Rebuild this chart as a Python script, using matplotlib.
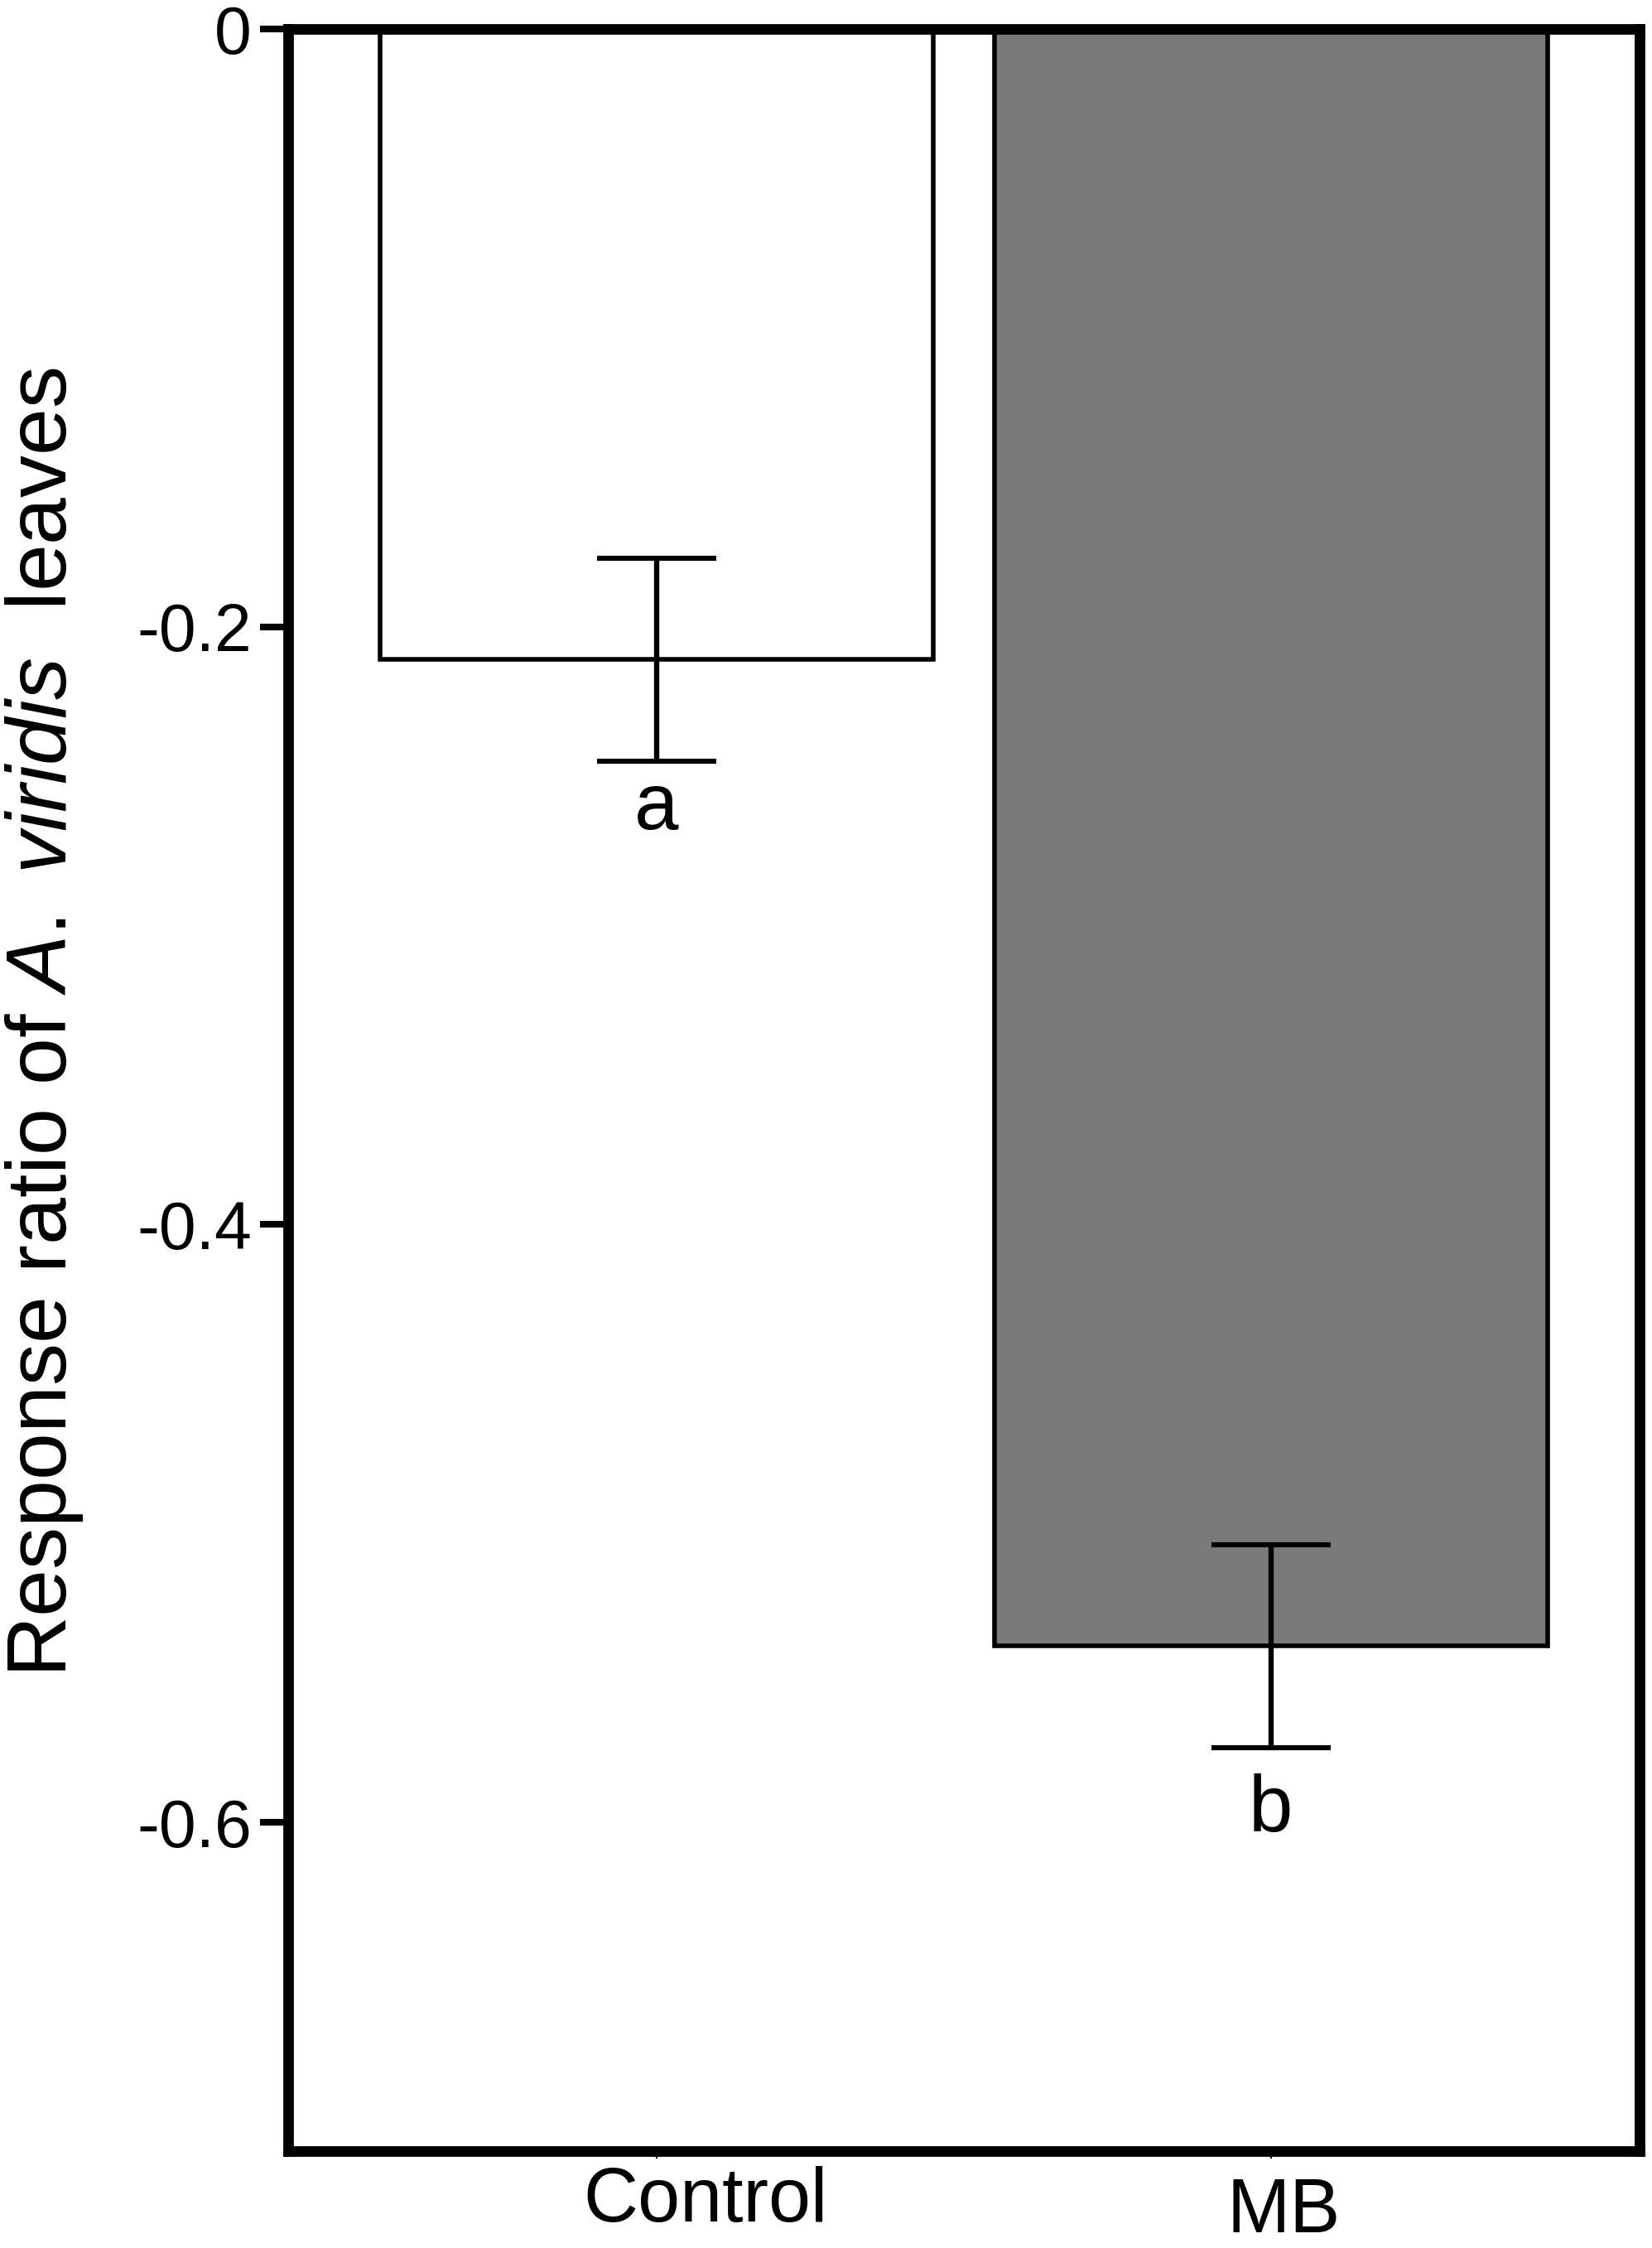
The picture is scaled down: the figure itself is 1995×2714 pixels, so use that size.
import matplotlib
matplotlib.use("Agg")
import matplotlib.pyplot as plt

# Data
categories = ["Control", "MB"]
values = [-0.211, -0.541]
errors = [0.034, 0.034]
letters = ["a", "b"]
bar_colors = ["#ffffff", "#7a7a7a"]
yticks = [0, -0.2, -0.4, -0.6]
ytick_labels = ["0", "-0.2", "-0.4", "-0.6"]

plt.rcParams['font.family'] = ['Liberation Sans', 'DejaVu Sans']
plt.rcParams['mathtext.fontset'] = 'custom'
plt.rcParams['mathtext.rm'] = 'Liberation Sans'
plt.rcParams['mathtext.it'] = 'Liberation Sans:italic'
plt.rcParams['axes.unicode_minus'] = False

fig = plt.figure(figsize=(19.95, 27.14), dpi=100)
ax = fig.add_axes([0.1742, 0.0431, 0.9925 - 0.1742, 0.9871 - 0.0431])

x = list(range(len(categories)))
ax.bar(x, values, width=0.9, color=bar_colors, edgecolor='black', linewidth=4, zorder=2)
ax.errorbar(x, values, yerr=errors, fmt='none', ecolor='black', elinewidth=4.6,
            capsize=52, capthick=4.4, zorder=3)

ax.set_xlim(-0.6, 1.6)
ax.set_ylim(-0.71, 0.0)

for sp in ax.spines.values():
    sp.set_linewidth(9.2)
    sp.set_zorder(4)

ax.set_yticks(yticks)
ax.set_yticklabels(ytick_labels)
ax.tick_params(axis='y', direction='out', length=24.5, width=5.8, pad=7, labelsize=58)
ax.set_xticks(x)
ax.set_xticklabels(["", ""])
ax.tick_params(axis='x', direction='out', length=6.5, width=1.5)

# letters below the error bars
letter_offsets = [59, 73]
for xi, v, e, lt, off in zip(x, values, errors, letters, letter_offsets):
    ax.annotate(lt, xy=(xi, v - e), xytext=(0, -off), textcoords='offset points',
                ha='center', va='baseline', fontsize=69)

# category labels (offset as in the original)
cat_offsets = [(42.5, -61.2), (10.8, -70.5)]
for xi, cat, (dx, dy) in zip(x, categories, cat_offsets):
    ax.annotate(cat, xy=(xi, 0), xycoords=('data', 'axes fraction'),
                xytext=(dx, dy), textcoords='offset points',
                ha='center', va='baseline', fontsize=66, annotation_clip=False)

fig.text(0.027, 0.5453, r"Response ratio of $\mathit{A.\ viridis}$  leaves",
         rotation=90, ha='center', va='center', fontsize=73.5)

fig.savefig("out.png", dpi=100)
